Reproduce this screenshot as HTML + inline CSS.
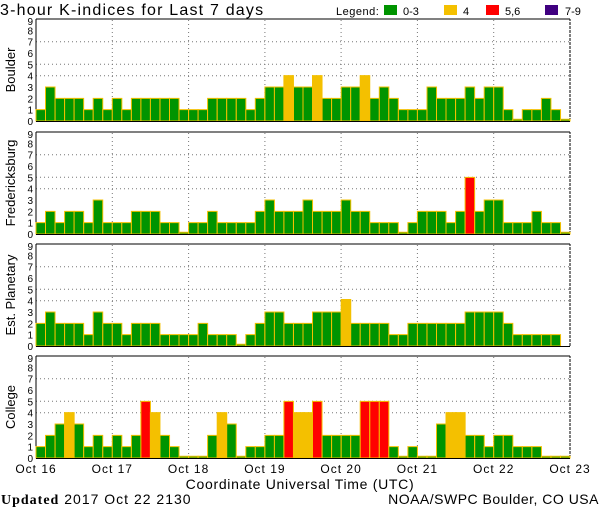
<!DOCTYPE html>
<html><head><meta charset="utf-8"><style>
html,body{margin:0;padding:0;background:#fff}
svg{display:block}
text{font-family:"Liberation Sans",sans-serif;fill:#000}
rect{vector-effect:non-scaling-stroke}
.b rect{stroke:#f4c000;stroke-width:1;fill:#009400;width:9.54px}
.b .y{fill:#f4c000}.b .r{fill:#ff0000}
.tk{font-size:10px;text-anchor:end}
.grid{stroke:#777;stroke-width:1;stroke-dasharray:1,3}
</style></head><body>
<svg width="600" height="510" viewBox="0 0 600 510" xmlns="http://www.w3.org/2000/svg">
<text x="0" y="15" font-size="16" letter-spacing="1.2">3-hour K-indices for Last 7 days</text>
<text x="336" y="15" font-size="11" letter-spacing="0.5">Legend:</text>
<rect x="384" y="5" width="13" height="10" fill="#009400"/><text x="403" y="15" font-size="11">0-3</text>
<rect x="444" y="5" width="13" height="10" fill="#f4c000"/><text x="463" y="15" font-size="11">4</text>
<rect x="486" y="5" width="13" height="10" fill="#ff0000"/><text x="505" y="15" font-size="11">5,6</text>
<rect x="545" y="5" width="13" height="10" fill="#400080"/><text x="565" y="15" font-size="11">7-9</text>
<defs>
<g id="frame">
<line class="grid" x1="36" x2="570" y1="-45.3" y2="-45.3"/>
<line class="grid" x1="36" x2="570" y1="-56.7" y2="-56.7"/>
<line class="grid" x1="36" x2="570" y1="-79.3" y2="-79.3"/>
<line class="grid" x1="112.3" x2="112.3" y1="0" y2="-102"/>
<line class="grid" x1="188.6" x2="188.6" y1="0" y2="-102"/>
<line class="grid" x1="264.9" x2="264.9" y1="0" y2="-102"/>
<line class="grid" x1="341.1" x2="341.1" y1="0" y2="-102"/>
<line class="grid" x1="417.4" x2="417.4" y1="0" y2="-102"/>
<line class="grid" x1="493.7" x2="493.7" y1="0" y2="-102"/>
<line x1="36" x2="570" y1="-102" y2="-102" stroke="#000"/>
<line x1="36" x2="36" y1="0" y2="-102" stroke="#000"/>
<line x1="570" x2="570" y1="0" y2="-102" stroke="#000" stroke-dasharray="3,1"/>
<text class="tk" x="33" y="4">0</text><text class="tk" x="33" y="-7.3">1</text><text class="tk" x="33" y="-18.7">2</text><text class="tk" x="33" y="-30">3</text><text class="tk" x="33" y="-41.3">4</text><text class="tk" x="33" y="-52.7">5</text><text class="tk" x="33" y="-64">6</text><text class="tk" x="33" y="-75.3">7</text><text class="tk" x="33" y="-86.7">8</text><text class="tk" x="33" y="-96">9</text>
</g>
</defs>
<use href="#frame" transform="translate(0,121)"/>
<use href="#frame" transform="translate(0,234)"/>
<use href="#frame" transform="translate(0,346)"/>
<use href="#frame" transform="translate(0,458)"/>
<text transform="translate(15,70) rotate(-90)" font-size="13" text-anchor="middle">Boulder</text>
<text transform="translate(15,183) rotate(-90)" font-size="13" text-anchor="middle">Fredericksburg</text>
<text transform="translate(15,295) rotate(-90)" font-size="13" text-anchor="middle">Est. Planetary</text>
<text transform="translate(15,407) rotate(-90)" font-size="13" text-anchor="middle">College</text>

<g class="b" transform="translate(0,121) scale(1,-11.33)">
<rect x="36.0" width="9.54" height="1"/><rect x="45.5" width="9.54" height="3"/><rect x="55.1" width="9.54" height="2"/><rect x="64.6" width="9.54" height="2"/><rect x="74.1" width="9.54" height="2"/><rect x="83.7" width="9.54" height="1"/><rect x="93.2" width="9.54" height="2"/><rect x="102.8" width="9.54" height="1"/>
<rect x="112.3" width="9.54" height="2"/><rect x="121.8" width="9.54" height="1"/><rect x="131.4" width="9.54" height="2"/><rect x="140.9" width="9.54" height="2"/><rect x="150.4" width="9.54" height="2"/><rect x="160.0" width="9.54" height="2"/><rect x="169.5" width="9.54" height="2"/><rect x="179.0" width="9.54" height="1"/>
<rect x="188.6" width="9.54" height="1"/><rect x="198.1" width="9.54" height="1"/><rect x="207.6" width="9.54" height="2"/><rect x="217.2" width="9.54" height="2"/><rect x="226.7" width="9.54" height="2"/><rect x="236.3" width="9.54" height="2"/><rect x="245.8" width="9.54" height="1"/><rect x="255.3" width="9.54" height="2"/>
<rect x="264.9" width="9.54" height="3"/><rect x="274.4" width="9.54" height="3"/><rect class="y" x="283.9" width="9.54" height="4"/><rect x="293.5" width="9.54" height="3"/><rect x="303.0" width="9.54" height="3"/><rect class="y" x="312.5" width="9.54" height="4"/><rect x="322.1" width="9.54" height="2"/><rect x="331.6" width="9.54" height="2"/>
<rect x="341.2" width="9.54" height="3"/><rect x="350.7" width="9.54" height="3"/><rect class="y" x="360.2" width="9.54" height="4"/><rect x="369.8" width="9.54" height="2"/><rect x="379.3" width="9.54" height="3"/><rect x="388.8" width="9.54" height="2"/><rect x="398.4" width="9.54" height="1"/><rect x="407.9" width="9.54" height="1"/>
<rect x="417.4" width="9.54" height="1"/><rect x="427.0" width="9.54" height="3"/><rect x="436.5" width="9.54" height="2"/><rect x="446.0" width="9.54" height="2"/><rect x="455.6" width="9.54" height="2"/><rect x="465.1" width="9.54" height="3"/><rect x="474.7" width="9.54" height="2"/><rect x="484.2" width="9.54" height="3"/>
<rect x="493.7" width="9.54" height="3"/><rect x="503.3" width="9.54" height="1"/><rect x="512.8" width="9.54" height="0.15"/><rect x="522.3" width="9.54" height="1"/><rect x="531.9" width="9.54" height="1"/><rect x="541.4" width="9.54" height="2"/><rect x="551.0" width="9.54" height="1"/><rect x="560.5" width="9.54" height="0.15"/>
</g>

<g class="b" transform="translate(0,234) scale(1,-11.33)">
<rect x="36.0" width="9.54" height="1"/><rect x="45.5" width="9.54" height="2"/><rect x="55.1" width="9.54" height="1"/><rect x="64.6" width="9.54" height="2"/><rect x="74.1" width="9.54" height="2"/><rect x="83.7" width="9.54" height="1"/><rect x="93.2" width="9.54" height="3"/><rect x="102.8" width="9.54" height="1"/>
<rect x="112.3" width="9.54" height="1"/><rect x="121.8" width="9.54" height="1"/><rect x="131.4" width="9.54" height="2"/><rect x="140.9" width="9.54" height="2"/><rect x="150.4" width="9.54" height="2"/><rect x="160.0" width="9.54" height="1"/><rect x="169.5" width="9.54" height="1"/><rect x="179.0" width="9.54" height="0.15"/>
<rect x="188.6" width="9.54" height="1"/><rect x="198.1" width="9.54" height="1"/><rect x="207.6" width="9.54" height="2"/><rect x="217.2" width="9.54" height="1"/><rect x="226.7" width="9.54" height="1"/><rect x="236.3" width="9.54" height="1"/><rect x="245.8" width="9.54" height="1"/><rect x="255.3" width="9.54" height="2"/>
<rect x="264.9" width="9.54" height="3"/><rect x="274.4" width="9.54" height="2"/><rect x="283.9" width="9.54" height="2"/><rect x="293.5" width="9.54" height="2"/><rect x="303.0" width="9.54" height="3"/><rect x="312.5" width="9.54" height="2"/><rect x="322.1" width="9.54" height="2"/><rect x="331.6" width="9.54" height="2"/>
<rect x="341.2" width="9.54" height="3"/><rect x="350.7" width="9.54" height="2"/><rect x="360.2" width="9.54" height="2"/><rect x="369.8" width="9.54" height="1"/><rect x="379.3" width="9.54" height="1"/><rect x="388.8" width="9.54" height="1"/><rect x="398.4" width="9.54" height="0.15"/><rect x="407.9" width="9.54" height="1"/>
<rect x="417.4" width="9.54" height="2"/><rect x="427.0" width="9.54" height="2"/><rect x="436.5" width="9.54" height="2"/><rect x="446.0" width="9.54" height="1"/><rect x="455.6" width="9.54" height="2"/><rect class="r" x="465.1" width="9.54" height="5"/><rect x="474.7" width="9.54" height="2"/><rect x="484.2" width="9.54" height="3"/>
<rect x="493.7" width="9.54" height="3"/><rect x="503.3" width="9.54" height="1"/><rect x="512.8" width="9.54" height="1"/><rect x="522.3" width="9.54" height="1"/><rect x="531.9" width="9.54" height="2"/><rect x="541.4" width="9.54" height="1"/><rect x="551.0" width="9.54" height="1"/><rect x="560.5" width="9.54" height="0.15"/>
</g>

<g class="b" transform="translate(0,346) scale(1,-11.33)">
<rect x="36.0" width="9.54" height="2"/><rect x="45.5" width="9.54" height="3"/><rect x="55.1" width="9.54" height="2"/><rect x="64.6" width="9.54" height="2"/><rect x="74.1" width="9.54" height="2"/><rect x="83.7" width="9.54" height="1"/><rect x="93.2" width="9.54" height="3"/><rect x="102.8" width="9.54" height="2"/>
<rect x="112.3" width="9.54" height="2"/><rect x="121.8" width="9.54" height="1"/><rect x="131.4" width="9.54" height="2"/><rect x="140.9" width="9.54" height="2"/><rect x="150.4" width="9.54" height="2"/><rect x="160.0" width="9.54" height="1"/><rect x="169.5" width="9.54" height="1"/><rect x="179.0" width="9.54" height="1"/>
<rect x="188.6" width="9.54" height="1"/><rect x="198.1" width="9.54" height="2"/><rect x="207.6" width="9.54" height="1"/><rect x="217.2" width="9.54" height="1"/><rect x="226.7" width="9.54" height="1"/><rect x="236.3" width="9.54" height="0.15"/><rect x="245.8" width="9.54" height="1"/><rect x="255.3" width="9.54" height="2"/>
<rect x="264.9" width="9.54" height="3"/><rect x="274.4" width="9.54" height="3"/><rect x="283.9" width="9.54" height="2"/><rect x="293.5" width="9.54" height="2"/><rect x="303.0" width="9.54" height="2"/><rect x="312.5" width="9.54" height="3"/><rect x="322.1" width="9.54" height="3"/><rect x="331.6" width="9.54" height="3"/>
<rect class="y" x="341.2" width="9.54" height="4.1"/><rect x="350.7" width="9.54" height="2"/><rect x="360.2" width="9.54" height="2"/><rect x="369.8" width="9.54" height="2"/><rect x="379.3" width="9.54" height="2"/><rect x="388.8" width="9.54" height="1"/><rect x="398.4" width="9.54" height="1"/><rect x="407.9" width="9.54" height="2"/>
<rect x="417.4" width="9.54" height="2"/><rect x="427.0" width="9.54" height="2"/><rect x="436.5" width="9.54" height="2"/><rect x="446.0" width="9.54" height="2"/><rect x="455.6" width="9.54" height="2"/><rect x="465.1" width="9.54" height="3"/><rect x="474.7" width="9.54" height="3"/><rect x="484.2" width="9.54" height="3"/>
<rect x="493.7" width="9.54" height="3"/><rect x="503.3" width="9.54" height="2"/><rect x="512.8" width="9.54" height="1"/><rect x="522.3" width="9.54" height="1"/><rect x="531.9" width="9.54" height="1"/><rect x="541.4" width="9.54" height="1"/><rect x="551.0" width="9.54" height="1"/>
</g>

<g class="b" transform="translate(0,458) scale(1,-11.33)">
<rect x="36.0" width="9.54" height="1"/><rect x="45.5" width="9.54" height="2"/><rect x="55.1" width="9.54" height="3"/><rect class="y" x="64.6" width="9.54" height="4"/><rect x="74.1" width="9.54" height="3"/><rect x="83.7" width="9.54" height="1"/><rect x="93.2" width="9.54" height="2"/><rect x="102.8" width="9.54" height="1"/>
<rect x="112.3" width="9.54" height="2"/><rect x="121.8" width="9.54" height="1"/><rect x="131.4" width="9.54" height="2"/><rect class="r" x="140.9" width="9.54" height="5"/><rect class="y" x="150.4" width="9.54" height="4"/><rect x="160.0" width="9.54" height="2"/><rect x="169.5" width="9.54" height="1"/><rect x="179.0" width="9.54" height="0.15"/>
<rect x="188.6" width="9.54" height="0.15"/><rect x="198.1" width="9.54" height="0.15"/><rect x="207.6" width="9.54" height="2"/><rect class="y" x="217.2" width="9.54" height="4"/><rect x="226.7" width="9.54" height="3"/><rect x="236.3" width="9.54" height="0.15"/><rect x="245.8" width="9.54" height="1"/><rect x="255.3" width="9.54" height="1"/>
<rect x="264.9" width="9.54" height="2"/><rect x="274.4" width="9.54" height="2"/><rect class="r" x="283.9" width="9.54" height="5"/><rect class="y" x="293.5" width="9.54" height="4"/><rect class="y" x="303.0" width="9.54" height="4"/><rect class="r" x="312.5" width="9.54" height="5"/><rect x="322.1" width="9.54" height="2"/><rect x="331.6" width="9.54" height="2"/>
<rect x="341.2" width="9.54" height="2"/><rect x="350.7" width="9.54" height="2"/><rect class="r" x="360.2" width="9.54" height="5"/><rect class="r" x="369.8" width="9.54" height="5"/><rect class="r" x="379.3" width="9.54" height="5"/><rect x="388.8" width="9.54" height="1"/><rect x="398.4" width="9.54" height="0.15"/><rect x="407.9" width="9.54" height="1"/>
<rect x="417.4" width="9.54" height="0.15"/><rect x="427.0" width="9.54" height="0.15"/><rect x="436.5" width="9.54" height="3"/><rect class="y" x="446.0" width="9.54" height="4"/><rect class="y" x="455.6" width="9.54" height="4"/><rect x="465.1" width="9.54" height="2"/><rect x="474.7" width="9.54" height="2"/><rect x="484.2" width="9.54" height="1"/>
<rect x="493.7" width="9.54" height="2"/><rect x="503.3" width="9.54" height="2"/><rect x="512.8" width="9.54" height="1"/><rect x="522.3" width="9.54" height="1"/><rect x="531.9" width="9.54" height="1"/><rect x="541.4" width="9.54" height="0.15"/><rect x="551.0" width="9.54" height="0.15"/><rect x="560.5" width="9.54" height="0.15"/>
</g>

<line x1="36" x2="570" y1="121.5" y2="121.5" stroke="#000"/>
<line x1="36" x2="570" y1="234.5" y2="234.5" stroke="#000"/>
<line x1="36" x2="570" y1="346.5" y2="346.5" stroke="#000"/>
<line x1="36" x2="570" y1="458.5" y2="458.5" stroke="#000"/>

<g font-size="12" text-anchor="middle" letter-spacing="1">
<text x="36" y="473">Oct 16</text>
<text x="112.3" y="473">Oct 17</text>
<text x="188.6" y="473">Oct 18</text>
<text x="264.9" y="473">Oct 19</text>
<text x="341.1" y="473">Oct 20</text>
<text x="417.4" y="473">Oct 21</text>
<text x="493.7" y="473">Oct 22</text>
<text x="570" y="473">Oct 23</text>
</g>
<text x="300" y="489" font-size="14" text-anchor="middle" letter-spacing="0.7">Coordinate Universal Time (UTC)</text>
<text x="1" y="504" font-size="14" letter-spacing="1"><tspan font-family="Liberation Serif" font-weight="bold">Updated</tspan> 2017 Oct 22 2130</text>
<text x="599" y="504" font-size="14" text-anchor="end" letter-spacing="0.5">NOAA/SWPC Boulder, CO USA</text>
</svg>
</body></html>
